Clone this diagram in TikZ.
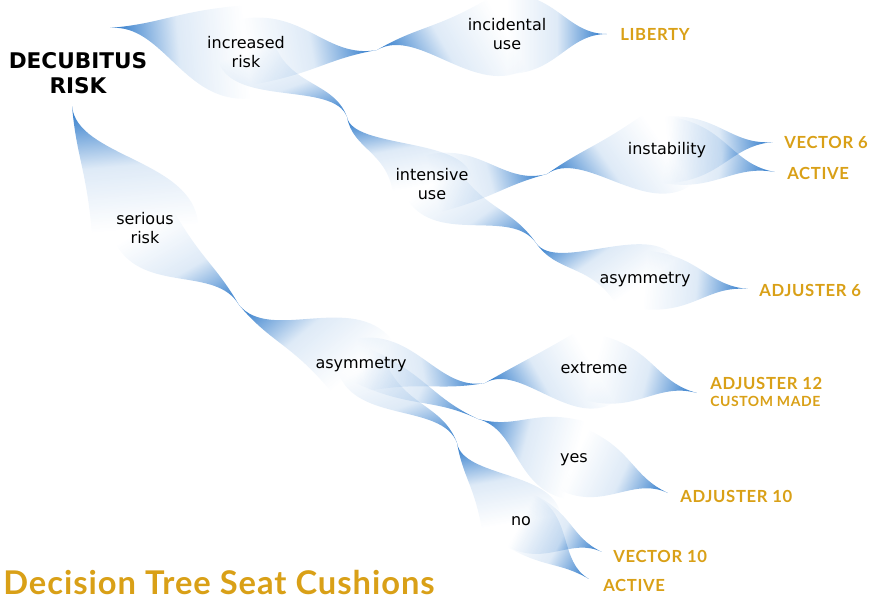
\documentclass[tikz,border=0pt]{standalone}
\usepackage{fontspec}
\usepackage{tikz}
\usetikzlibrary{fadings, backgrounds, positioning}
\newfontfamily\labelfont{DejaVu Sans}
\newfontfamily\prodfont{Lato}[LetterSpace=4]
\newfontfamily\titlefont{Lato}[LetterSpace=3]
\definecolor{hornblue}{RGB}{35,115,200}
\definecolor{prodgold}{RGB}{217,160,23}
\tikzfading[name=hornfade, left color=transparent!0, right color=transparent!100, middle color=transparent!85]
\tikzset{
x=0.75pt, y=-0.75pt, % one unit is one pixel of the drawing
root/.style={align=center, font=\labelfont\bfseries\fontsize{16.2}{18.8}\selectfont, inner sep=0pt}, % the starting question
choice/.style={align=center, font=\labelfont\fontsize{12}{14.5}\selectfont, inner sep=0pt}, % the questions on the branches
product/.style={anchor=west, font=\prodfont\bfseries\fontsize{12.5}{14}\selectfont, text=prodgold, inner sep=0pt}, % the cushions at the leaves
hornfill/.style={fill=hornblue, path fading=hornfade}, % the fading ribbons
}
% a ribbon with its sharp tip at #1, opening towards #2, leaving the tip at angle #3, half width #4 (pt)
\newcommand{\horn}[4]{%
  \pgfpointanchor{#1}{center}\pgfgetlastxy{\hax}{\hay}%
  \pgfpointanchor{#2}{center}\pgfgetlastxy{\hbx}{\hby}%
  \pgfmathsetmacro{\hex}{(\hbx-\hax)*cos(#3)+(\hby-\hay)*sin(#3)}%
  \pgfmathsetmacro{\hey}{(\hby-\hay)*cos(#3)-(\hbx-\hax)*sin(#3)}%
  \pgfmathsetmacro{\hca}{0.4*\hex}%
  \pgfmathsetmacro{\hcb}{0.5*\hex}%
  \pgfmathsetmacro{\hup}{\hey+#4}%
  \pgfmathsetmacro{\hdn}{\hey-#4}%
  \begin{scope}[transform canvas={shift={(\hax,\hay)}, rotate=#3}]
    \fill[hornfill] (0pt,0pt) .. controls (\hca pt,0pt) and (\hcb pt,\hup pt) .. (\hex pt,\hup pt)
      -- (\hex pt,\hdn pt) .. controls (\hcb pt,\hdn pt) and (\hca pt,0pt) .. (0pt,0pt) -- cycle;
  \end{scope}}

\begin{document}
\begin{tikzpicture}
    \useasboundingbox (0,0) rectangle (876,598);
    % forks of the tree
    \coordinate (top) at (110,28);
    \coordinate (low) at (72,106);
    \coordinate (j1) at (377,50);
    \coordinate (j2) at (347,117);
    \coordinate (j3) at (547,174);
    \coordinate (j4) at (536,243);
    \coordinate (j5) at (239,305);
    \coordinate (j6) at (485,383);
    \coordinate (j7) at (478,419);
    \coordinate (j8) at (457,443);
    % tips next to the cushions
    \coordinate (tlib) at (607,34);
    \coordinate (tvec6) at (773,142);
    \coordinate (tact1) at (775,172);
    \coordinate (tadj6) at (748,289);
    \coordinate (tadj12) at (697,393);
    \coordinate (tadj10) at (668,493);
    \coordinate (tvec10) at (602,552);
    \coordinate (tact2) at (589,579);

    \node[root] (risk) at (78,73) {DECUBITUS\\RISK};
    \node[choice] (incr) at (246,52) {increased\\risk};
    \node[choice] (incid) at (507,34) {incidental\\use};
    \node[choice] (inten) at (432,184) {intensive\\use};
    \node[choice] (instab) at (667,150) {instability};
    \node[choice] (asym1) at (645,280) {asymmetry};
    \node[choice] (serious) at (145,228) {serious\\risk};
    \node[choice] (asym2) at (361,365) {asymmetry};
    \node[choice] (extreme) at (594,368) {extreme};
    \node[choice] (yes) at (574,460) {yes};
    \node[choice] (no) at (521,521) {no};

    \node[product] (liberty) at (620,34) {LIBERTY};
    \node[product] (vector6) at (784,142) {VECTOR 6};
    \node[product] (active1) at (787,173) {ACTIVE};
    \node[product] (adj6) at (759,290) {ADJUSTER 6};
    \node[product] (adj12) at (710,383) {ADJUSTER 12};
    \node[product, font=\prodfont\bfseries\fontsize{10.5}{12}\selectfont, below=5pt of adj12.south west, anchor=north west] (custom) {CUSTOM MADE};
    \node[product] (adj10) at (680,496) {ADJUSTER 10};
    \node[product] (vector10) at (613,556) {VECTOR 10};
    \node[product] (active2) at (603,585) {ACTIVE};
    \node[product, font=\titlefont\bfseries\fontsize{24.5}{27}\selectfont] (title) at (3,582) {Decision Tree Seat Cushions};

    \begin{pgfonlayer}{background}
    \horn{top}{incr}{5}{35}
    \horn{j1}{incr}{190}{25}
    \horn{j1}{incid}{30}{30}
    \horn{tlib}{incid}{180}{30}
    \horn{j2}{incr}{110}{22}
    \horn{j2}{inten}{-80}{30}
    \horn{j3}{inten}{195}{22}
    \horn{j3}{instab}{35}{32}
    \horn{tvec6}{instab}{185}{25}
    \horn{tact1}{instab}{170}{25}
    \horn{j4}{inten}{125}{22}
    \horn{j4}{asym1}{-55}{28}
    \horn{tadj6}{asym1}{175}{22}
    \horn{low}{serious}{-85}{40}
    \horn{j5}{serious}{120}{25}
    \horn{j5}{asym2}{-50}{30}
    \horn{j6}{asym2}{190}{20}
    \horn{j6}{extreme}{30}{30}
    \horn{tadj12}{extreme}{165}{25}
    \horn{j7}{asym2}{155}{14}
    \horn{j7}{yes}{-15}{30}
    \horn{tadj10}{yes}{155}{25}
    \horn{j8}{asym2}{110}{18}
    \horn{j8}{no}{-80}{30}
    \horn{tvec10}{no}{155}{22}
    \horn{tact2}{no}{150}{22}
    \end{pgfonlayer}
\end{tikzpicture}
\end{document}
